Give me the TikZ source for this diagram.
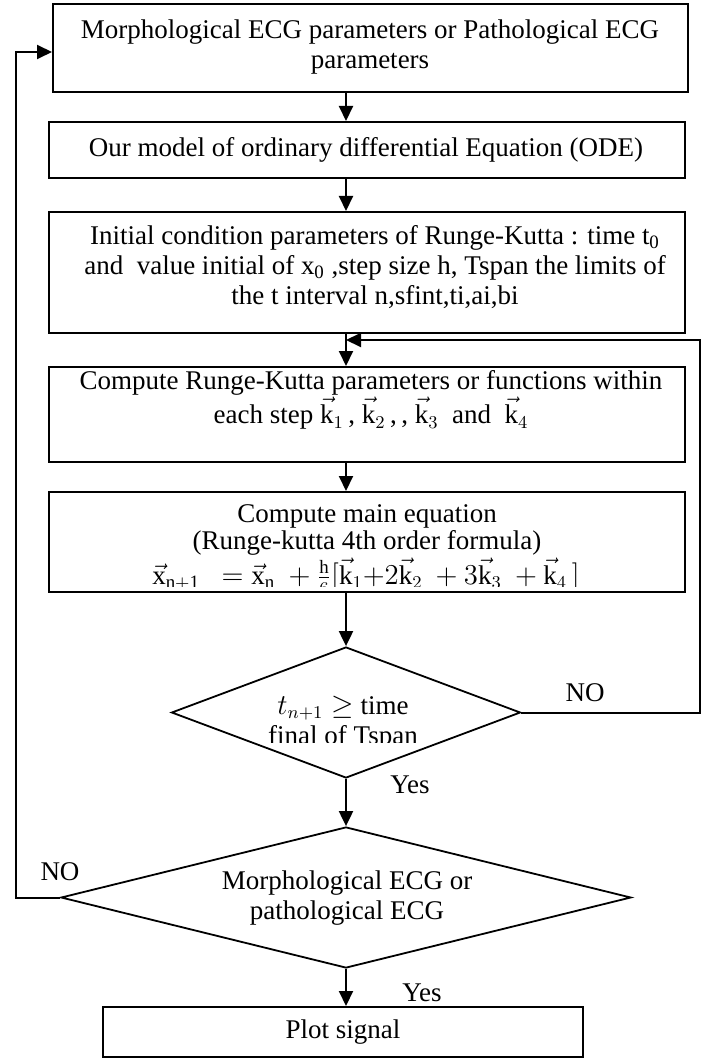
\documentclass[tikz,border=0pt]{standalone}
\usepackage{fontspec}
\setmainfont{Liberation Serif}
\usetikzlibrary{arrows.meta,shapes.geometric}
\begin{document}
\begin{tikzpicture}[x=0.5pt,y=-0.5pt,
  every node/.style={font=\fontsize{13.5}{15}\selectfont},
  boxnode/.style={draw, line width=1pt, inner sep=0pt},
  decision/.style={draw, shape=diamond, line width=0.9pt, inner sep=0pt},
  txt/.style={align=center, inner sep=0pt},
  flow/.style={line width=1pt, -{Triangle[length=7.5pt,width=7pt]}},
  lbl/.style={inner sep=0pt}]
\useasboundingbox (0,0) rectangle (712,1059);

% process boxes
\node[boxnode, minimum width=317.5pt, minimum height=44pt] (b1) at (370.5,48) {};
\node[txt] (t1) at (370,47) {Morphological ECG parameters or Pathological ECG\\parameters};

\node[boxnode, minimum width=318pt, minimum height=28pt] (b2) at (367,150) {};
\node[txt] (t2) at (366,150) {Our model of ordinary differential Equation (ODE)};

\node[boxnode, minimum width=318pt, minimum height=60.5pt] (b3) at (367,272.5) {};
\node[txt] (t3) at (375,267) {Initial condition parameters of Runge-Kutta : time t\textsubscript{0}\\
  and \ value initial of x\textsubscript{0} ,step size h, Tspan the limits of\\
  the t interval n,sfint,ti,ai,bi};

\node[boxnode, minimum width=318pt, minimum height=47.5pt] (b4) at (367,414.5) {};
\node[txt] (t4) at (371,400) {Compute Runge-Kutta parameters or functions within\\
  each step $\vec{\mathrm{k}}_1$\,, $\vec{\mathrm{k}}_2$\,,\,, $\vec{\mathrm{k}}_3$ \ and \ $\vec{\mathrm{k}}_4$};

\node[boxnode, minimum width=318pt, minimum height=50pt] (b5) at (367,542) {};
\node[txt] (t5a) at (367,516) {Compute main equation};
\node[txt] (t5b) at (367,543) {(Runge-kutta 4th order formula)};
\begin{scope}
  \clip (0,0) rectangle (712,586);
  \node[txt] (t5c) at (366,576) {$\vec{\mathrm{x}}_{\mathrm{n+1}}\ \ = \vec{\mathrm{x}}_{\mathrm{n}}\ + \frac{\mathrm{h}}{6}[\vec{\mathrm{k}}_1 {+} 2\vec{\mathrm{k}}_2\ + 3\vec{\mathrm{k}}_3\ + \vec{\mathrm{k}}_4\,]$};
\end{scope}

% decisions
\node[decision, minimum width=174.5pt, minimum height=65.5pt] (d1) at (346,712.5) {};
\begin{scope}
  \clip (0,0) rectangle (712,742);
  \node[txt] (t6) at (343,723) {$t_{n+1} \geq$ time\\final of Tspan};
\end{scope}

\node[decision, minimum width=285pt, minimum height=70.5pt] (d2) at (346,897.5) {};
\node[txt] (t7) at (347,898) {Morphological ECG or\\pathological ECG};

\node[boxnode, minimum width=240pt, minimum height=25pt] (b6) at (343,1032) {Plot signal};

% branch labels
\node[lbl] (no1) at (585,693) {NO};
\node[lbl] (yes1) at (410,785) {Yes};
\node[lbl] (no2) at (60,872) {NO};
\node[lbl] (yes2) at (422,993) {Yes};

% main flow
\draw[flow] (b1.south -| d1.north) -- (b2.north -| d1.north);
\draw[flow] (b2.south -| d1.north) -- (b3.north -| d1.north);
\draw[flow] (b3.south -| d1.north) -- (b4.north -| d1.north);
\draw[flow] (b4.south -| d1.north) -- (b5.north -| d1.north);
\draw[flow] (b5.south -| d1.north) -- (d1.north);
\draw[flow] (d1.south) -- (d2.north);
\draw[flow] (d2.south) -- (b6.north -| d2.south);

% loops back
\coordinate (rc) at (700,340);
\coordinate (jn) at (346,340);
\draw[flow] (d1.east) -| (rc) -- (jn);
\coordinate (lc) at (16,52);
\draw[flow] (d2.west) -| (lc) -- (lc -| b1.west);
\end{tikzpicture}
\end{document}
